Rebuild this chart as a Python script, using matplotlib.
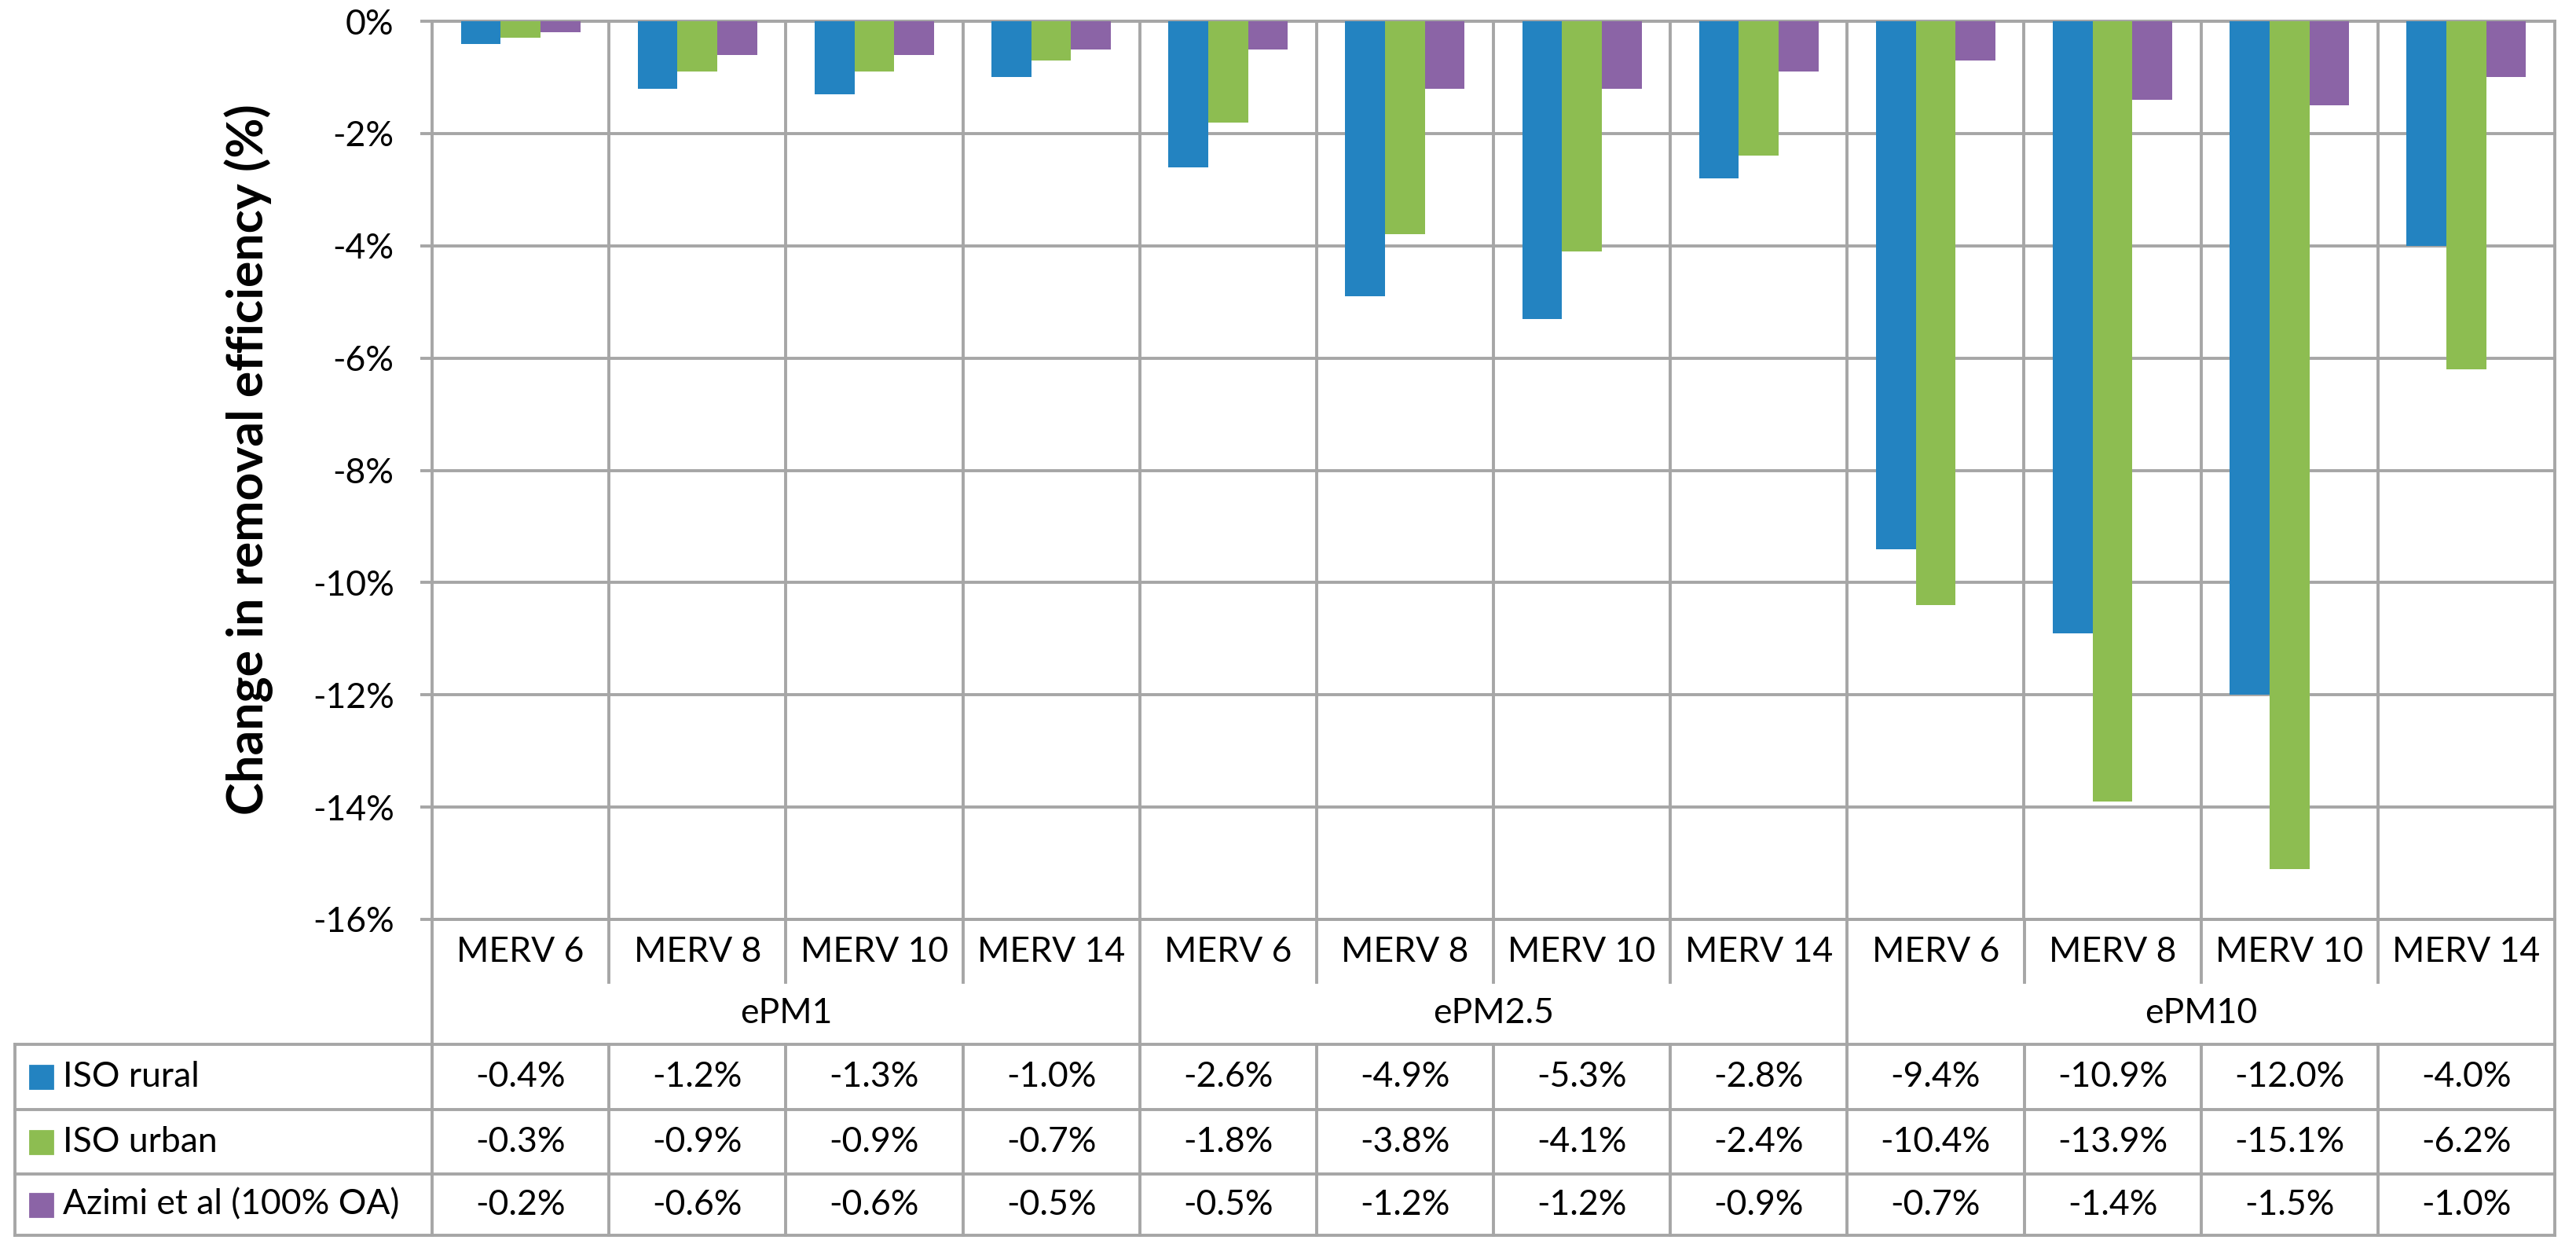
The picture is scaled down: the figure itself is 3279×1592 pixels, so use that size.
import matplotlib
matplotlib.use("Agg")
import matplotlib.pyplot as plt
from matplotlib.patches import Rectangle

plt.rcParams['font.family'] = ['Lato', 'DejaVu Sans']

filters = ["MERV 6", "MERV 8", "MERV 10", "MERV 14"]
groups = ["ePM1", "ePM2.5", "ePM10"]
series = ["ISO rural", "ISO urban", "Azimi et al (100% OA)"]
colors = ["#2383C1", "#8DBD51", "#8B64A6"]

iso_rural = [-0.4, -1.2, -1.3, -1.0, -2.6, -4.9, -5.3, -2.8, -9.4, -10.9, -12.0, -4.0]
iso_urban = [-0.3, -0.9, -0.9, -0.7, -1.8, -3.8, -4.1, -2.4, -10.4, -13.9, -15.1, -6.2]
azimi = [-0.2, -0.6, -0.6, -0.5, -0.5, -1.2, -1.2, -0.9, -0.7, -1.4, -1.5, -1.0]
values = [iso_rural, iso_urban, azimi]

yticks = [0, -2, -4, -6, -8, -10, -12, -14, -16]

W, H = 3280, 1592
grid_c = "#A6A6A6"
lw = 1.4
fs = 16

fig = plt.figure(figsize=(W / 200, H / 200), dpi=200)

# plot area in pixels
px_l, px_r, px_t, px_b = 550, 3252, 27, 1170
ax = fig.add_axes([px_l / W, 1 - px_b / H, (px_r - px_l) / W, (px_b - px_t) / H])

n = len(groups) * len(filters)
bw = 0.225
for s, vals in enumerate(values):
    xs = [i + 0.5 + (s - 1) * bw for i in range(n)]
    ax.bar(xs, vals, width=bw, color=colors[s], zorder=3)

ax.set_xlim(0, n)
ax.set_ylim(-16, 0)
ax.set_yticks(yticks)
ax.set_yticklabels(["{}%".format(t) for t in yticks], fontsize=fs)
ax.set_xticks([])
for x in range(1, n):
    ax.axvline(x, color=grid_c, lw=lw, zorder=1)
for y in yticks:
    ax.axhline(y, color=grid_c, lw=lw, zorder=1, clip_on=False)
ax.tick_params(axis='y', direction='out', length=5.4, width=lw, color=grid_c, pad=12)
for sp in ax.spines.values():
    sp.set_color(grid_c)
    sp.set_linewidth(lw)

fig.text(317 / W, 1 - 585 / H, "Change in removal efficiency (%)", rotation=90,
         ha='center', va='center', fontsize=22.5, fontweight='bold')

# table below the plot
tb_l, tb_b = 19, 1572
cat_w = (px_r - px_l) / n
ta = fig.add_axes([tb_l / W, 1 - tb_b / H, (px_r - tb_l) / W, (tb_b - px_b) / H])
left = -(px_l - tb_l) / cat_w
ta.set_xlim(left, n)
rows = [0, 80, 159, 242, 324, 402]
ta.set_ylim(rows[-1], 0)
ta.axis('off')

# vertical lines
for x in range(n + 1):
    if x % 4 == 0:
        ta.plot([x, x], [rows[0], rows[-1]], color=grid_c, lw=lw, clip_on=False)
    else:
        ta.plot([x, x], [rows[0], rows[1]], color=grid_c, lw=lw, clip_on=False)
        ta.plot([x, x], [rows[2], rows[-1]], color=grid_c, lw=lw, clip_on=False)
ta.plot([left, left], [rows[2], rows[-1]], color=grid_c, lw=lw, clip_on=False)
for y in rows[2:]:
    ta.plot([left, n], [y, y], color=grid_c, lw=lw, clip_on=False)

# category and group labels
for i in range(n):
    ta.text(i + 0.5, (rows[0] + rows[1]) / 2 + 2, filters[i % 4], ha='center', va='center', fontsize=fs)
for g, name in enumerate(groups):
    ta.text(g * 4 + 2, (rows[1] + rows[2]) / 2, name, ha='center', va='center', fontsize=fs)

# data rows
sq_w = 29 / cat_w
for s, vals in enumerate(values):
    yc = (rows[2 + s] + rows[3 + s]) / 2
    ta.add_patch(Rectangle((left + 19 / cat_w, yc - 14.5), sq_w, 29, color=colors[s], clip_on=False))
    ta.text(left + 61 / cat_w, yc, series[s], ha='left', va='center', fontsize=fs)
    for i, v in enumerate(vals):
        ta.text(i + 0.5, yc, "{:.1f}%".format(v), ha='center', va='center', fontsize=fs)

fig.savefig("out.png", dpi=200)
